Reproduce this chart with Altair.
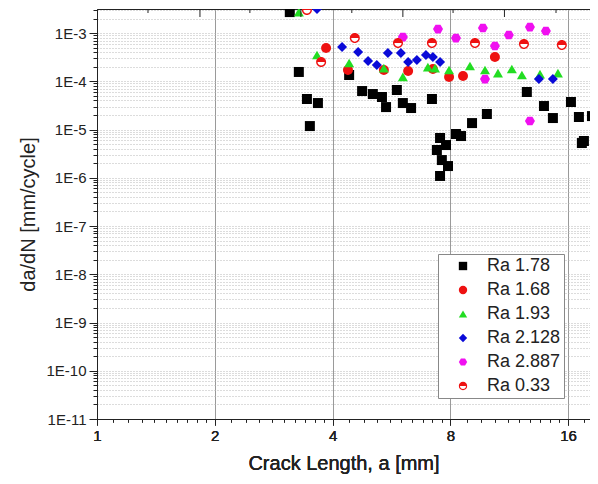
import altair as alt
import pandas as pd

FONT = "Liberation Sans, Arial, sans-serif"

series_names = ["Ra 1.78", "Ra 1.68", "Ra 1.93", "Ra 2.128", "Ra 2.887", "Ra 0.33"]
series_colors = ["#000000", "#ee1111", "#22dd22", "#0a0ad8", "#f010f0", "#ee1111"]

HEX = "M1,0L0.5,0.866L-0.5,0.866L-1,0L-0.5,-0.866L0.5,-0.866Z"
HALF = ("M-1,0A1,1,0,0,1,1,0Z"
        "M-1,0A1,1,0,0,0,1,0L0.72,0A0.72,0.72,0,0,1,-0.72,0Z")
series_shapes = ["square", "circle", "triangle-up", "diamond", HEX, HALF]

# Ra 1.78 (black squares)
ra178_x = [3.11, 3.28, 3.44, 3.67, 3.50, 4.41, 4.76, 5.07, 5.35, 5.48, 5.84, 6.05,
           6.35, 7.18, 7.53, 7.80, 7.39, 7.61, 7.89, 7.53, 8.27, 8.52, 9.09, 9.92,
           12.55, 13.88, 14.63, 16.27, 17.05, 18.41, 17.35, 17.56]
ra178_y = [2.72e-3, 1.56e-4, 4.29e-5, 3.54e-5, 1.18e-5, 1.35e-4, 6.28e-5, 5.44e-5,
           4.72e-5, 2.92e-5, 6.59e-5, 3.54e-5, 2.79e-5, 4.29e-5, 6.67e-6, 4.77e-6,
           3.76e-6, 2.33e-6, 1.75e-6, 1.09e-6, 8.07e-6, 7.33e-6, 1.36e-5, 2.10e-5,
           5.99e-5, 3.07e-5, 1.73e-5, 3.72e-5, 1.82e-5, 1.90e-5, 5.25e-6, 5.78e-6]

# Ra 1.68 (red circles)
ra168_x = [3.85, 4.38, 5.41, 6.24, 7.22, 7.94, 8.62, 10.40]
ra168_y = [4.89e-4, 1.71e-4, 1.71e-4, 1.63e-4, 1.80e-4, 1.23e-4, 1.29e-4, 3.18e-4]

# Ra 1.93 (green triangles)
ra193_x = [3.28, 3.65, 4.41, 5.41, 6.05, 7.01, 7.31, 7.94, 8.98, 9.81, 10.59, 11.49,
           12.19, 13.56, 15.07, 18.95]
ra193_y = [2.72e-3, 3.50e-4, 2.39e-4, 1.88e-4, 1.23e-4, 1.97e-4, 1.88e-4, 1.71e-4,
           2.07e-4, 1.71e-4, 1.48e-4, 1.80e-4, 1.35e-4, 1.41e-4, 1.48e-4, 4.04e-4]

# Ra 2.128 (blue diamonds)
ra2128_x = [3.65, 4.23, 4.65, 4.93, 5.19, 5.54, 5.98, 6.24, 6.57, 6.93, 7.22, 7.53,
            13.47, 14.63, 18.95]
ra2128_y = [3.14e-3, 5.13e-4, 4.04e-4, 2.63e-4, 2.17e-4, 3.85e-4, 3.85e-4, 2.51e-4,
            2.76e-4, 3.50e-4, 3.18e-4, 2.51e-4, 1.11e-4, 1.11e-4, 2.28e-4]

# Ra 2.887 (magenta hexagons)
ra2887_x = [6.05, 7.44, 8.27, 9.69, 9.81, 10.40, 11.29, 12.78, 14.04, 12.78]
ra2887_y = [8.26e-4, 1.21e-3, 7.87e-4, 1.27e-3, 1.11e-4, 5.38e-4, 9.09e-4, 1.33e-3,
            1.10e-3, 1.50e-5]

# Ra 0.33 (half-filled circles)
ra033_x = [3.44, 3.74, 4.56, 5.88, 7.18, 9.25, 12.34, 15.42]
ra033_y = [3.00e-3, 2.51e-4, 7.87e-4, 6.20e-4, 6.20e-4, 6.20e-4, 5.91e-4, 5.64e-4]

all_x = [ra178_x, ra168_x, ra193_x, ra2128_x, ra2887_x, ra033_x]
all_y = [ra178_y, ra168_y, ra193_y, ra2128_y, ra2887_y, ra033_y]

rows = []
for name, xs, ys in zip(series_names, all_x, all_y):
    for xv, yv in zip(xs, ys):
        rows.append({"series": name, "a": xv, "dadn": yv})
df = pd.DataFrame(rows)
df_main = df[df["series"] != "Ra 0.33"]
df_half = df[df["series"] == "Ra 0.33"]

# axis tick values
x_major = [1, 2, 4, 8, 16]
x_minor = [1.1, 1.2, 1.3, 1.4, 1.5, 1.6, 1.7, 1.8, 1.9,
           2.2, 2.4, 2.6, 2.8, 3.0, 3.2, 3.4, 3.6, 3.8,
           4.4, 4.8, 5.2, 5.6, 6.0, 6.4, 6.8, 7.2, 7.6,
           8.8, 9.6, 10.4, 11.2, 12.0, 12.8, 13.6, 14.4, 15.2, 17.6]
y_ticks = []
for e in range(-11, -2):
    for m in range(1, 10):
        v = float(f"{m}e{e}")
        if v <= 3.1e-3:
            y_ticks.append(v)

top_major = [1.833, 3.32, 6.05, 11.0]
top_minor = [1.350, 2.459, 4.48, 8.13, 14.9]

x_scale = alt.Scale(type="log", base=2, domain=[1, 18.2], nice=False)
y_scale = alt.Scale(type="log", domain=[1e-11, 3.15e-3], nice=False)

is_x_major = "indexof([1,2,4,8,16], datum.value) >= 0"
is_y_major = "abs(log(datum.value)/LN10 - round(log(datum.value)/LN10)) < 0.01"

x_axis = alt.Axis(
    values=x_major + x_minor,
    labelExpr=f"{is_x_major} ? datum.value : ''",
    tickSize={"condition": {"test": is_x_major, "value": 6}, "value": 3},
    gridOpacity={"condition": {"test": is_x_major, "value": 1}, "value": 0},
    gridColor="#9a9a9a", gridWidth=1,
    tickColor="#222", domainColor="#222",
    labelFont=FONT, labelFontSize=15, labelColor="#222", labelPadding=3,
    labelFlush=False, labelOverlap=False,
    title="Crack Length, a [mm]", titleFont=FONT, titleFontSize=20,
    titleFontWeight="normal", titleColor="#222", titlePadding=10,
    orient="bottom",
)
y_axis = alt.Axis(
    values=y_ticks,
    labelExpr=f"{is_y_major} ? '1E' + round(log(datum.value)/LN10) : ''",
    tickSize={"condition": {"test": is_y_major, "value": 8}, "value": 4},
    grid=True, gridColor="#b8b8b8", gridDash=[1, 2], gridWidth=1,
    tickColor="#222", domainColor="#222",
    labelFont=FONT, labelFontSize=15, labelColor="#222", labelPadding=3,
    labelFlush=False, labelOverlap=False,
    title="da/dN [mm/cycle]", titleFont=FONT, titleFontSize=20,
    titleFontWeight="normal", titleColor="#222", titlePadding=7,
)

color_scale = alt.Scale(domain=series_names, range=series_colors)
shape_scale = alt.Scale(domain=series_names, range=series_shapes)
legend = alt.Legend(
    title=None, orient="none", legendX=341, legendY=245,
    fillColor="white", strokeColor="#888888", padding=3, rowPadding=6,
    labelFont=FONT, labelFontSize=18, labelColor="#222", labelOffset=15,
    symbolSize=70, symbolOffset=13, symbolStrokeWidth=0, symbolType="circle",
)

main = alt.Chart(df_main).mark_point(filled=True, opacity=1, size=100, clip=True).encode(
    x=alt.X("a:Q", scale=x_scale, axis=x_axis),
    y=alt.Y("dadn:Q", scale=y_scale, axis=y_axis),
    color=alt.Color("series:N", scale=color_scale, legend=legend),
    shape=alt.Shape("series:N", scale=shape_scale, legend=legend),
)

white_disc = alt.Chart(df_half).mark_point(
    filled=True, opacity=1, size=90, shape="circle", color="white", clip=True
).encode(
    x=alt.X("a:Q", scale=x_scale, axis=x_axis),
    y=alt.Y("dadn:Q", scale=y_scale, axis=y_axis),
)

half = alt.Chart(df_half).mark_point(filled=True, opacity=1, size=100, clip=True).encode(
    x=alt.X("a:Q", scale=x_scale, axis=x_axis),
    y=alt.Y("dadn:Q", scale=y_scale, axis=y_axis),
    color=alt.Color("series:N", scale=color_scale, legend=legend),
    shape=alt.Shape("series:N", scale=shape_scale, legend=legend),
)

top_axis = alt.Axis(orient="top", labels=False, ticks=False, grid=False,
                    domain=True, domainColor="#222", title=None)
top_major_rules = alt.Chart(pd.DataFrame({"t": top_major})).mark_rule(
    color="#222", strokeWidth=1
).encode(
    x=alt.X("t:Q", scale=x_scale, axis=top_axis),
    y=alt.value(0), y2=alt.value(8),
)
top_minor_rules = alt.Chart(pd.DataFrame({"t": top_minor})).mark_rule(
    color="#222", strokeWidth=1
).encode(
    x=alt.X("t:Q", scale=x_scale, axis=top_axis),
    y=alt.value(0), y2=alt.value(4),
)

chart = alt.layer(main, white_disc, half, top_major_rules, top_minor_rules).properties(
    width=493, height=410,
    autosize=alt.AutoSizeParams(type="none"),
    padding={"left": 89, "top": 1, "right": 0, "bottom": 57},
).configure_view(stroke=None).configure(background="white")

chart.save("out.html", embed_options={"renderer": "svg", "actions": False})
